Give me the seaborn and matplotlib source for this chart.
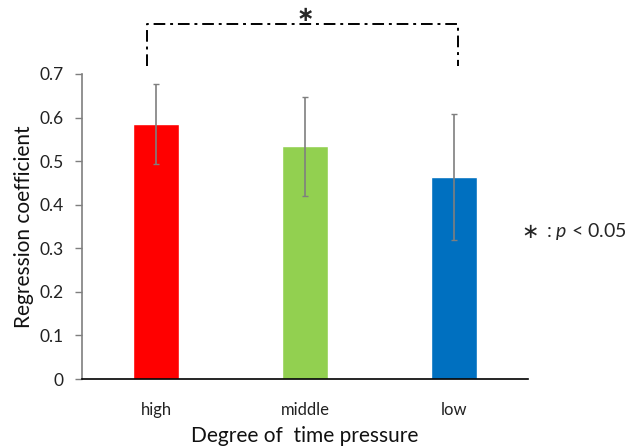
import matplotlib
matplotlib.use("Agg")
import matplotlib.pyplot as plt
import seaborn as sns
import pandas as pd

categories = ["high", "middle", "low"]
values = [0.585, 0.534, 0.464]
errors = [0.092, 0.114, 0.144]
colors = ["#FF0000", "#92D050", "#0070C0"]
yticks = [0, 0.1, 0.2, 0.3, 0.4, 0.5, 0.6, 0.7]
ytick_labels = ["0", "0.1", "0.2", "0.3", "0.4", "0.5", "0.6", "0.7"]

sns.set_style("white")
plt.rcParams["font.family"] = ["Lato", "DejaVu Sans"]
plt.rcParams["mathtext.fontset"] = "custom"
plt.rcParams["mathtext.it"] = "Lato:italic"
plt.rcParams["mathtext.rm"] = "Lato"

df = pd.DataFrame({"cat": categories, "val": values})

fig = plt.figure(figsize=(6.42, 4.47), dpi=100)
ax = fig.add_axes([82 / 642, 68 / 447, 446 / 642, 305 / 447])

sns.barplot(data=df, x="cat", y="val", hue="cat", palette=colors,
            order=categories, hue_order=categories, width=0.31,
            legend=False, ax=ax, errorbar=None, saturation=1)
ax.errorbar(range(len(categories)), values, yerr=errors, fmt="none",
            ecolor="#7f7f7f", elinewidth=1.2, capsize=2.5, capthick=1.0)

ax.set_xlim(-0.5, 2.5)
ax.set_ylim(0, 0.7)
ax.set_yticks(yticks)
ax.set_yticklabels(ytick_labels)
ax.tick_params(axis="y", which="both", left=True, length=5, width=1,
               color="#7f7f7f", labelsize=12.5, pad=8, labelcolor="#222222")
ax.tick_params(axis="x", bottom=False, labelsize=12, pad=13,
               labelcolor="#222222")
for s in ["top", "right"]:
    ax.spines[s].set_visible(False)
ax.spines["left"].set_color("#7f7f7f")
ax.spines["left"].set_linewidth(1.2)
ax.spines["bottom"].set_color("black")
ax.spines["bottom"].set_linewidth(1.2)

ax.set_xlabel("Degree of  time pressure", fontsize=15, labelpad=6,
              color="#111111")
ax.set_ylabel("Regression coefficient", fontsize=15, labelpad=4,
              color="#111111")

# significance bracket
bx = [-0.06, -0.06, 2.03, 2.03]
by = [0.718, 0.814, 0.814, 0.718]
ax.plot(bx, by, color="black", lw=1.4, linestyle=(0, (6, 2.5, 1.5, 2.5)),
        clip_on=False)
ax.text(1.0, 0.836, "∗", ha="center", va="center", fontsize=15,
        fontweight="bold", family="DejaVu Sans")

fig.text(530 / 642, 1 - 232 / 447, "∗", ha="center", va="center",
         fontsize=15, family="DejaVu Sans")
fig.text(546 / 642, 1 - 232 / 447, r": $p$ < 0.05", ha="left", va="center",
         fontsize=14)

fig.savefig("out.png", dpi=100)
